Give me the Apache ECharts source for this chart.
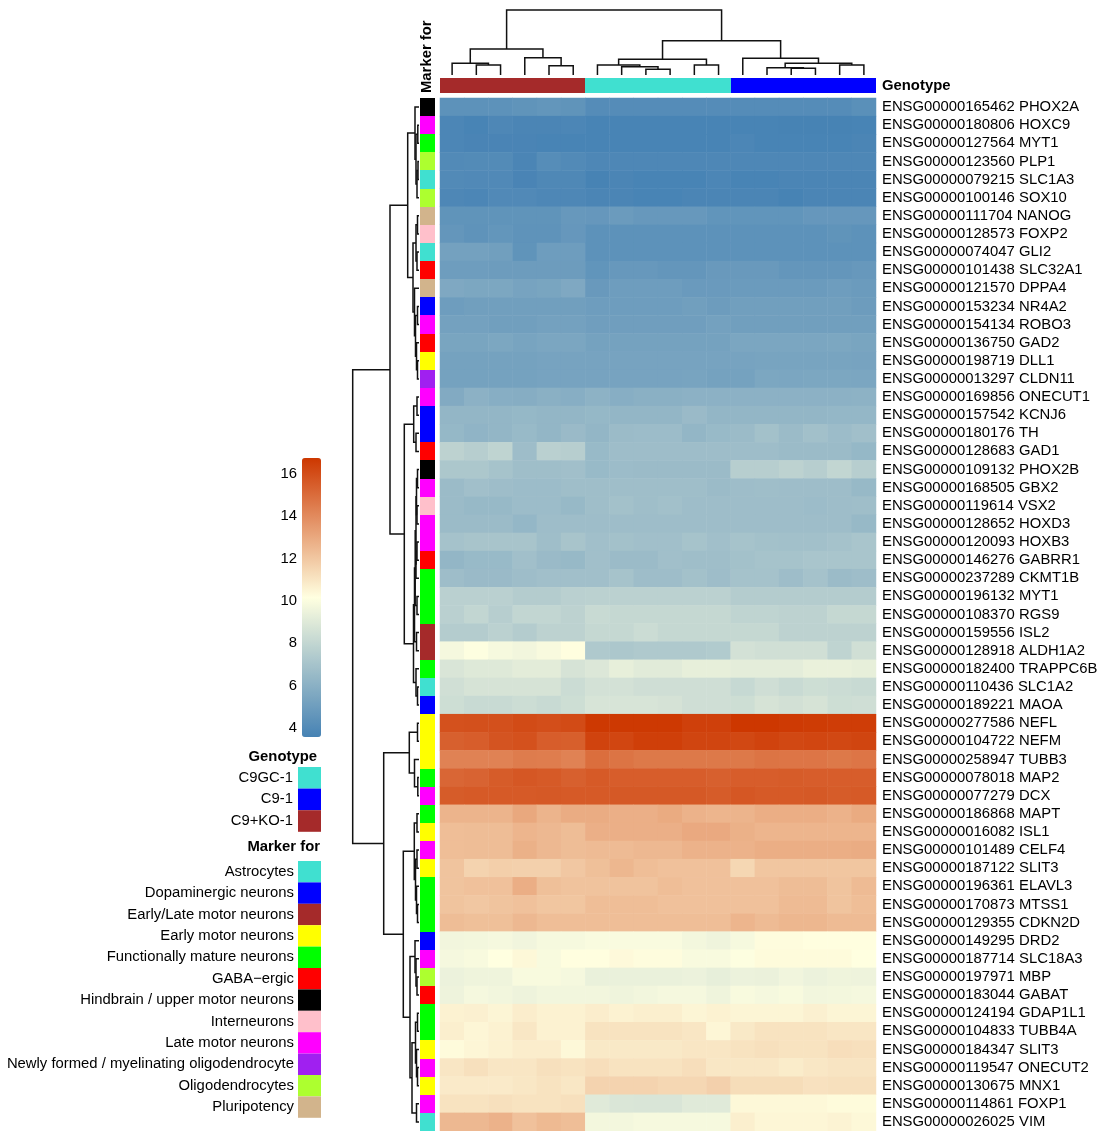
<!DOCTYPE html>
<html><head><meta charset="utf-8">
<script src="https://cdn.jsdelivr.net/npm/echarts@6/dist/echarts.min.js"></script>
<style>html,body{margin:0;padding:0;background:#fff}#c{width:1103px;height:1131px}</style>
</head><body><div id="c"></div>
<script>
// ---------------- DATA ----------------
const genes = ["ENSG00000165462 PHOX2A","ENSG00000180806 HOXC9","ENSG00000127564 MYT1","ENSG00000123560 PLP1","ENSG00000079215 SLC1A3","ENSG00000100146 SOX10","ENSG00000111704 NANOG","ENSG00000128573 FOXP2","ENSG00000074047 GLI2","ENSG00000101438 SLC32A1","ENSG00000121570 DPPA4","ENSG00000153234 NR4A2","ENSG00000154134 ROBO3","ENSG00000136750 GAD2","ENSG00000198719 DLL1","ENSG00000013297 CLDN11","ENSG00000169856 ONECUT1","ENSG00000157542 KCNJ6","ENSG00000180176 TH","ENSG00000128683 GAD1","ENSG00000109132 PHOX2B","ENSG00000168505 GBX2","ENSG00000119614 VSX2","ENSG00000128652 HOXD3","ENSG00000120093 HOXB3","ENSG00000146276 GABRR1","ENSG00000237289 CKMT1B","ENSG00000196132 MYT1","ENSG00000108370 RGS9","ENSG00000159556 ISL2","ENSG00000128918 ALDH1A2","ENSG00000182400 TRAPPC6B","ENSG00000110436 SLC1A2","ENSG00000189221 MAOA","ENSG00000277586 NEFL","ENSG00000104722 NEFM","ENSG00000258947 TUBB3","ENSG00000078018 MAP2","ENSG00000077279 DCX","ENSG00000186868 MAPT","ENSG00000016082 ISL1","ENSG00000101489 CELF4","ENSG00000187122 SLIT3","ENSG00000196361 ELAVL3","ENSG00000170873 MTSS1","ENSG00000129355 CDKN2D","ENSG00000149295 DRD2","ENSG00000187714 SLC18A3","ENSG00000197971 MBP","ENSG00000183044 GABAT","ENSG00000124194 GDAP1L1","ENSG00000104833 TUBB4A","ENSG00000184347 SLIT3","ENSG00000119547 ONECUT2","ENSG00000130675 MNX1","ENSG00000114861 FOXP1","ENSG00000026025 VIM"];

const samples = ["C9+KO-1_a","C9+KO-1_b","C9+KO-1_c","C9+KO-1_d","C9+KO-1_e","C9+KO-1_f",
                 "C9GC-1_a","C9GC-1_b","C9GC-1_c","C9GC-1_d","C9GC-1_e","C9GC-1_f",
                 "C9-1_a","C9-1_b","C9-1_c","C9-1_d","C9-1_e","C9-1_f"];

const genotypeCats = ["C9GC-1","C9-1","C9+KO-1"];
const genotypeColors = ["#40E0D0","#0000FF","#A52A2A"];
const sampleGenotype = [2,2,2,2,2,2, 0,0,0,0,0,0, 1,1,1,1,1,1];

const markerCats = ["Astrocytes","Dopaminergic neurons","Early/Late motor neurons","Early motor neurons","Functionally mature neurons","GABA\u2212ergic","Hindbrain / upper motor neurons","Interneurons","Late motor neurons","Newly formed / myelinating oligodendrocyte","Oligodendrocytes","Pluripotency"];
const markerColors = ["#40E0D0","#0000FF","#A52A2A","#FFFF00","#00FF00","#FF0000","#000000","#FFC0CB","#FF00FF","#A020F0","#ADFF2F","#D2B48C"];
const geneMarker = [6,8,4,10,0,10,11,7,0,5, 11,1,8,5,3,9,8,1,1,5, 6,8,7,8,8,5,4,4,4,2, 2,4,0,1,3,3,3,4,8,4, 3,8,3,4,4,4,1,8,10,5, 4,4,3,8,3,8,0];

const expr = [
[4.4,4.4,4.4,4.5,4.6,4.5, 4.1,4.1,4.1,4.1,4.1,4.1, 4.1,4.1,4.1,4.1,4.1,4.3],
[3.8,3.65,3.85,3.75,3.75,3.8, 3.65,3.65,3.65,3.65,3.65,3.65, 3.65,3.65,3.6,3.6,3.6,3.65],
[3.8,3.7,3.7,3.7,3.65,3.65, 3.65,3.65,3.65,3.65,3.65,3.65, 3.8,3.65,3.65,3.65,3.65,3.75],
[4.0,4.05,4.05,3.75,4.15,4.0, 3.85,3.85,3.85,3.85,3.85,3.85, 3.85,3.85,3.85,3.85,3.85,3.85],
[4.0,3.95,3.95,3.7,3.9,3.9, 3.6,3.75,3.65,3.65,3.65,3.8, 3.65,3.65,3.75,3.75,3.75,3.75],
[3.85,3.8,3.95,3.95,3.85,3.85, 3.75,3.75,3.65,3.65,3.75,3.75, 3.75,3.75,3.6,3.75,3.75,3.75],
[4.5,4.5,4.5,4.5,4.5,4.75, 4.7,4.9,4.75,4.75,4.75,4.55, 4.55,4.55,4.55,4.7,4.7,4.7],
[4.65,4.45,4.6,4.45,4.45,4.7, 4.4,4.4,4.4,4.4,4.4,4.4, 4.4,4.4,4.4,4.4,4.5,4.4],
[5.2,5.2,5.1,4.5,5.0,5.0, 4.4,4.4,4.4,4.4,4.4,4.4, 4.4,4.4,4.4,4.4,4.4,4.4],
[5.0,5.0,4.95,4.95,4.95,4.95, 4.55,4.75,4.75,4.65,4.65,4.8, 4.8,4.8,4.65,4.65,4.65,4.75],
[5.6,5.5,5.5,5.3,5.4,5.6, 4.8,5.0,5.0,5.0,4.85,4.85, 4.9,4.9,4.9,4.9,5.0,4.9],
[5.0,5.1,5.1,5.1,5.1,5.1, 5.0,5.0,5.0,5.0,5.1,4.95, 5.1,5.1,5.1,5.1,5.1,4.95],
[5.2,5.2,5.1,5.1,5.2,5.2, 5.05,5.05,5.05,5.05,5.05,5.2, 5.1,5.1,5.1,5.1,5.1,5.1],
[5.4,5.4,5.5,5.35,5.45,5.45, 5.25,5.25,5.25,5.25,5.25,5.25, 5.45,5.45,5.45,5.45,5.5,5.4],
[5.25,5.25,5.25,5.25,5.3,5.3, 5.3,5.3,5.3,5.3,5.3,5.3, 5.3,5.35,5.35,5.35,5.35,5.3],
[5.25,5.25,5.25,5.25,5.3,5.3, 5.3,5.3,5.3,5.3,5.35,5.25, 5.25,5.5,5.45,5.5,5.5,5.45],
[5.7,6.05,5.9,5.85,6.0,5.9, 6.1,5.9,6.0,6.0,6.05,6.05, 6.05,6.05,6.05,6.05,6.05,6.1],
[6.3,6.3,6.3,6.4,6.3,6.3, 6.4,6.3,6.3,6.3,6.55,6.3, 6.3,6.3,6.3,6.3,6.35,6.35],
[6.4,6.2,6.3,6.5,6.3,6.55, 6.3,6.6,6.65,6.65,6.3,6.5, 6.6,6.9,6.6,6.85,6.65,6.8],
[7.8,7.6,7.9,6.7,7.7,7.6, 6.5,6.7,6.7,6.7,6.7,6.7, 6.7,6.7,6.6,6.6,6.6,6.4],
[7.2,7.2,7.0,6.75,6.75,6.8, 6.5,6.65,6.6,6.6,6.6,6.6, 7.6,7.6,7.8,7.6,8.0,7.6],
[6.6,6.8,6.7,6.65,6.65,6.75, 6.75,6.75,6.75,6.75,6.75,6.6, 6.7,6.75,6.7,6.7,6.7,6.45],
[6.6,6.45,6.45,6.65,6.65,6.45, 6.75,6.9,6.75,6.85,6.7,6.7, 6.7,6.7,6.7,6.65,6.7,6.75],
[6.6,6.6,6.6,6.35,6.7,6.7, 6.7,6.7,6.7,6.7,6.7,6.7, 6.7,6.7,6.7,6.7,6.7,6.45],
[6.95,7.05,7.05,7.05,6.75,7.05, 6.8,6.9,6.8,6.8,7.0,6.8, 7.0,6.9,6.85,6.85,6.95,7.1],
[6.3,6.5,6.5,6.8,6.55,6.45, 6.8,6.6,6.6,6.8,6.75,6.75, 6.9,7.0,7.0,7.1,7.1,7.1],
[6.7,6.55,6.55,6.7,6.8,6.8, 6.8,7.0,6.7,6.7,6.9,6.7, 6.95,6.95,6.7,6.95,6.6,6.7],
[7.7,7.7,7.7,7.5,7.5,7.7, 7.75,7.75,7.75,7.75,7.75,7.75, 7.5,7.5,7.5,7.5,7.5,7.5],
[7.7,8.0,7.6,8.0,8.0,7.8, 8.2,8.1,8.1,8.1,8.1,8.1, 7.9,7.9,7.8,7.8,8.1,8.1],
[7.5,7.5,7.75,7.5,7.8,7.8, 8.1,8.1,8.3,8.1,8.1,8.1, 8.1,8.1,7.8,7.8,7.8,7.8],
[9.8,10.1,9.85,9.7,9.9,10.2, 7.3,7.2,7.3,7.3,7.3,7.4, 8.6,8.5,8.5,8.5,7.9,8.5],
[8.8,9.0,9.0,9.15,9.15,8.7, 8.9,9.3,9.1,9.1,9.3,9.3, 9.2,9.2,9.2,9.4,9.4,9.3],
[8.5,8.7,8.7,8.7,8.7,8.3, 8.6,8.6,8.45,8.45,8.45,8.45, 8.15,8.45,8.2,8.4,8.3,8.2],
[8.4,8.2,8.2,8.35,8.2,8.4, 8.75,8.75,8.75,8.65,8.45,8.45, 8.4,8.7,8.55,8.7,8.4,8.45],
[15.9,15.95,15.95,16.1,16.0,16.1, 16.7,16.7,16.7,16.7,16.45,16.45, 16.75,16.75,16.65,16.6,16.55,16.55],
[15.4,15.5,15.8,15.9,15.5,15.45, 16.35,16.25,16.5,16.5,16.3,16.3, 16.2,16.35,16.2,16.25,16.2,16.3],
[14.3,14.3,14.3,14.5,14.45,14.3, 14.95,14.75,14.6,14.6,14.6,14.6, 14.6,14.75,14.7,14.7,14.6,14.7],
[15.2,15.3,15.55,15.7,15.6,15.4, 15.6,15.5,15.5,15.5,15.5,15.4, 15.5,15.5,15.55,15.5,15.5,15.5],
[15.55,15.6,15.6,15.6,15.65,15.6, 15.6,15.65,15.65,15.65,15.65,15.55, 15.7,15.6,15.6,15.65,15.55,15.6],
[12.65,12.65,12.65,13.05,12.65,12.9, 12.9,12.8,12.8,12.95,12.7,12.6, 12.65,12.85,12.85,12.85,12.7,12.95],
[12.3,12.35,12.35,12.6,12.5,12.35, 12.8,12.8,12.8,12.8,13.0,13.0, 12.75,12.6,12.6,12.6,12.6,12.6],
[12.3,12.35,12.35,12.75,12.5,12.35, 12.4,12.4,12.5,12.5,12.7,12.7, 12.7,12.85,12.85,12.85,12.85,12.9],
[12.1,11.6,11.75,11.7,11.7,12.0, 12.25,12.55,12.3,12.2,12.2,12.2, 11.5,12.05,12.05,12.05,12.05,12.05],
[12.1,12.2,12.2,12.85,12.25,12.15, 12.15,12.15,12.15,12.3,12.2,12.2, 12.2,12.2,12.35,12.35,12.1,12.4],
[12.1,12.0,12.1,12.2,12.05,12.05, 12.3,12.3,12.3,12.2,12.2,12.2, 12.2,12.2,12.4,12.4,12.1,12.3],
[12.35,12.25,12.25,12.5,12.3,12.3, 12.3,12.3,12.3,12.3,12.3,12.3, 12.6,12.4,12.55,12.55,12.4,12.4],
[9.7,9.75,9.8,9.65,9.85,9.85, 9.95,9.95,9.95,9.95,9.75,9.6, 9.85,10.25,10.25,10.2,10.2,10.2],
[9.8,9.9,10.15,10.4,9.9,10.2, 10.2,10.35,10.25,10.25,9.9,9.9, 10.1,10.3,10.3,10.3,10.3,10.15],
[9.5,9.6,9.6,9.9,9.9,9.8, 9.4,9.4,9.4,9.4,9.5,9.3, 9.5,9.45,9.65,9.5,9.6,9.55],
[9.55,9.8,9.7,9.55,9.7,9.7, 9.7,9.6,9.7,9.8,9.8,9.6, 9.9,9.8,9.9,9.7,9.75,9.8],
[10.6,10.65,10.5,10.75,10.6,10.6, 10.75,10.6,10.7,10.7,10.5,10.6, 10.5,10.5,10.5,10.65,10.5,10.5],
[10.7,10.45,10.6,10.95,10.6,10.6, 11.1,11.1,11.1,11.1,11.0,10.45, 10.9,11.1,11.1,11.1,11.0,11.0],
[10.3,10.45,10.6,10.75,10.75,10.4, 10.9,10.9,10.9,10.9,11.0,11.0, 11.1,11.2,11.1,11.1,11.25,11.2],
[11.0,11.2,11.0,11.0,11.2,11.1, 11.25,11.1,11.1,11.1,11.25,10.95, 10.95,10.95,10.8,10.95,11.05,11.05],
[10.85,10.85,10.85,10.95,11.1,10.95, 11.6,11.6,11.6,11.5,11.5,11.7, 11.3,11.3,11.3,11.15,11.2,11.2],
[11.1,11.1,11.2,11.1,11.1,11.2, 9.05,8.85,8.8,8.8,9.05,9.05, 10.4,10.4,10.4,10.4,10.3,10.3],
[12.5,12.5,12.7,12.2,12.45,12.3, 9.75,9.75,9.85,9.85,9.85,9.85, 10.7,10.45,10.45,10.45,10.55,10.4]
];

// dendrograms: [height, left, right]; leaves are indices
const colTree = [65,
  [26, [11.7, 0, [10, 1, 2]], [17.3, 3, [9.3, 4, 5]]],
  [34.3,
    [15.7, [10, 6, [8.3, 7, [5.7, 8, 9]]], [10, 10, 11]],
    [16.7, 12, [11.7, [7.3, 13, [6.7, 14, 15]], [10, 16, 17]]]]];

const rowTree = [66.3,
  [29,
    [11.3,
      [4, 0, [3, [1.2, 1, 2], [2, [1, 3, 4], 5]]],
      [6, [3, [1.5, 6, 7], [2, 8, 9]], [4.5, 10, [3.5, [1.5, 11, 12], [2.5, 13, [1.5, 14, 15]]]]]],
    [14.7,
      [5.3, [2, 16, 17], [3, 18, 19]],
      [5.5,
        [4.5, [3.8, [3, [2.5, [1.5, 20, 21], [2, 22, 23]], [3, [2, 24, 25], 26]], [2, 27, 28]], [2.5, 29, 30]],
        [3, 31, [1.5, 32, 33]]]]],
  [35.3,
    [9.7, [1.5, 34, 35], [4.5, 36, [1.2, 37, 38]]],
    [15.7,
      [4.7, [2, 39, 40], [3.5, [2, 41, 42], [2.5, 43, [1.5, 44, 45]]]],
      [9, [4, 46, [3, 47, [2, 48, 49]]], [7, [3.5, [1.5, 50, 51], [2.5, 52, [1.5, 53, 54]]], [2.5, 55, 56]]]]]];

const colorMin = 3.57, colorMax = 16.76;
const colorTicks = [4, 6, 8, 10, 12, 14, 16];
const rampColors = ["#4682B4", "#FFFFE0", "#CD3700"];

// ---------------- BUILD ----------------
const FONT = '"Liberation Sans", Arial, Helvetica, sans-serif';
const FS = 14.85;

function segments(tree) {
  const out = [];
  (function walk(n) {
    if (typeof n === 'number') return { p: n + 0.5, h: 0 };
    const L = walk(n[1]), R = walk(n[2]);
    out.push([L.p, L.h, R.p, R.h, n[0]]);
    return { p: (L.p + R.p) / 2, h: n[0] };
  })(tree);
  return out;
}

function dendroRender(vertical) {
  return function (params, api) {
    const p1 = api.value(0), h1 = api.value(1), p2 = api.value(2), h2 = api.value(3), H = api.value(4);
    const pt = vertical ? (p, h) => api.coord([p, h]) : (p, h) => api.coord([h, p]);
    return { type: 'polyline', shape: { points: [pt(p1, h1), pt(p1, H), pt(p2, H), pt(p2, h2)] },
             style: { stroke: '#111', lineWidth: 1.5, fill: null } };
  };
}

function cellRender(colors) {
  return function (params, api) {
    const c = api.coord([api.value(0), api.value(1)]);
    const s = api.size([1, 1]);
    const x0 = Math.round(c[0] - s[0] / 2), x1 = Math.round(c[0] + s[0] / 2);
    const y0 = Math.round(c[1] - s[1] / 2), y1 = Math.round(c[1] + s[1] / 2);
    return { type: 'rect', shape: { x: x0, y: y0, width: x1 - x0, height: y1 - y0 },
             style: { fill: colors[api.value(2)], stroke: null } };
  };
}

const heatData = [];
expr.forEach((row, r) => row.forEach((v, c) => heatData.push([c, r, v])));
const colAnnData = sampleGenotype.map((g, c) => [c, 0, g]);
const rowAnnData = geneMarker.map((m, r) => [0, r, m]);

const hidden = { show: false };
const noAxis = { axisLine: hidden, axisTick: hidden, splitLine: hidden };

const graphics = [];
const txt = (x, y, text, bold) => ({ type: 'text', x, y, silent: true,
  style: { text, font: (bold ? 'bold ' : '') + FS + 'px ' + FONT, fill: '#000', align: 'right', verticalAlign: 'middle' } });
graphics.push(txt(317, 757, 'Genotype', true));
genotypeCats.forEach((g, i) => {
  const y = 767 + i * 21.6;
  graphics.push({ type: 'rect', silent: true, shape: { x: 298, y, width: 23, height: 21.6 }, style: { fill: genotypeColors[i] } });
  graphics.push(txt(293, y + 10.8, g, false));
});
graphics.push(txt(320, 847, 'Marker for', true));
markerCats.forEach((m, i) => {
  const y = 861 + i * 21.4;
  graphics.push({ type: 'rect', silent: true, shape: { x: 298, y, width: 23, height: 21.4 }, style: { fill: markerColors[i] } });
  graphics.push(txt(294, y + 10.7, m, false));
});

const option = {
  animation: false,
  backgroundColor: '#fff',
  textStyle: { fontFamily: FONT },
  grid: [
    { left: 440, top: 98, width: 436, height: 1033 },   // 0 heatmap
    { left: 440, top: 78, width: 436, height: 15 },     // 1 genotype bar
    { left: 420, top: 98, width: 14.5, height: 1033 },  // 2 marker column
    { left: 440, top: 10, width: 436, height: 65 },     // 3 top dendrogram
    { left: 352, top: 98, width: 67, height: 1033 },    // 4 left dendrogram
    { left: 302, top: 458, width: 19, height: 279 }     // 5 colour-bar labels
  ],
  xAxis: [
    { gridIndex: 0, type: 'category', data: samples, show: false },
    { gridIndex: 1, type: 'category', data: samples, show: false },
    { gridIndex: 2, type: 'category', data: ['Marker for'], position: 'top', ...noAxis,
      axisLabel: { show: true, rotate: -90, margin: 5, fontSize: FS, fontWeight: 'bold', color: '#000', fontFamily: FONT } },
    { gridIndex: 3, type: 'value', min: 0, max: 18, show: false },
    { gridIndex: 4, type: 'value', min: 0, max: 67, inverse: true, show: false },
    { gridIndex: 5, type: 'value', min: 0, max: 1, show: false }
  ],
  yAxis: [
    { gridIndex: 0, type: 'category', data: genes, inverse: true, position: 'right', ...noAxis,
      axisLabel: { show: true, interval: 0, margin: 6, fontSize: FS, color: '#000', fontFamily: FONT } },
    { gridIndex: 1, type: 'category', data: ['Genotype'], position: 'right', ...noAxis,
      axisLabel: { show: true, margin: 6, fontSize: FS, fontWeight: 'bold', color: '#000', fontFamily: FONT } },
    { gridIndex: 2, type: 'category', data: genes, inverse: true, show: false },
    { gridIndex: 3, type: 'value', min: 0, max: 65, show: false },
    { gridIndex: 4, type: 'value', min: 0, max: 57, inverse: true, show: false },
    { gridIndex: 5, type: 'value', min: colorMin, max: colorMax, position: 'left', ...noAxis,
      axisLabel: { show: true, margin: 5, fontSize: FS, color: '#000', fontFamily: FONT, customValues: colorTicks } }
  ],
  visualMap: [{
    type: 'continuous', seriesIndex: 0, min: colorMin, max: colorMax, calculable: false, hoverLink: false,
    orient: 'vertical', left: 302, top: 458, itemWidth: 19, itemHeight: 279, padding: 0,
    inRange: { color: rampColors }
  }],
  graphic: graphics,
  series: [
    { type: 'heatmap', xAxisIndex: 0, yAxisIndex: 0, data: heatData, itemStyle: { borderWidth: 0 }, emphasis: { disabled: true } },
    { type: 'custom', xAxisIndex: 1, yAxisIndex: 1, data: colAnnData, renderItem: cellRender(genotypeColors), silent: true },
    { type: 'custom', xAxisIndex: 2, yAxisIndex: 2, data: rowAnnData, renderItem: cellRender(markerColors), silent: true },
    { type: 'custom', xAxisIndex: 3, yAxisIndex: 3, data: segments(colTree), renderItem: dendroRender(true), silent: true },
    { type: 'custom', xAxisIndex: 4, yAxisIndex: 4, data: segments(rowTree), renderItem: dendroRender(false), silent: true }
  ]
};

const chart = echarts.init(document.getElementById('c'));
chart.setOption(option);
</script>
</body></html>
